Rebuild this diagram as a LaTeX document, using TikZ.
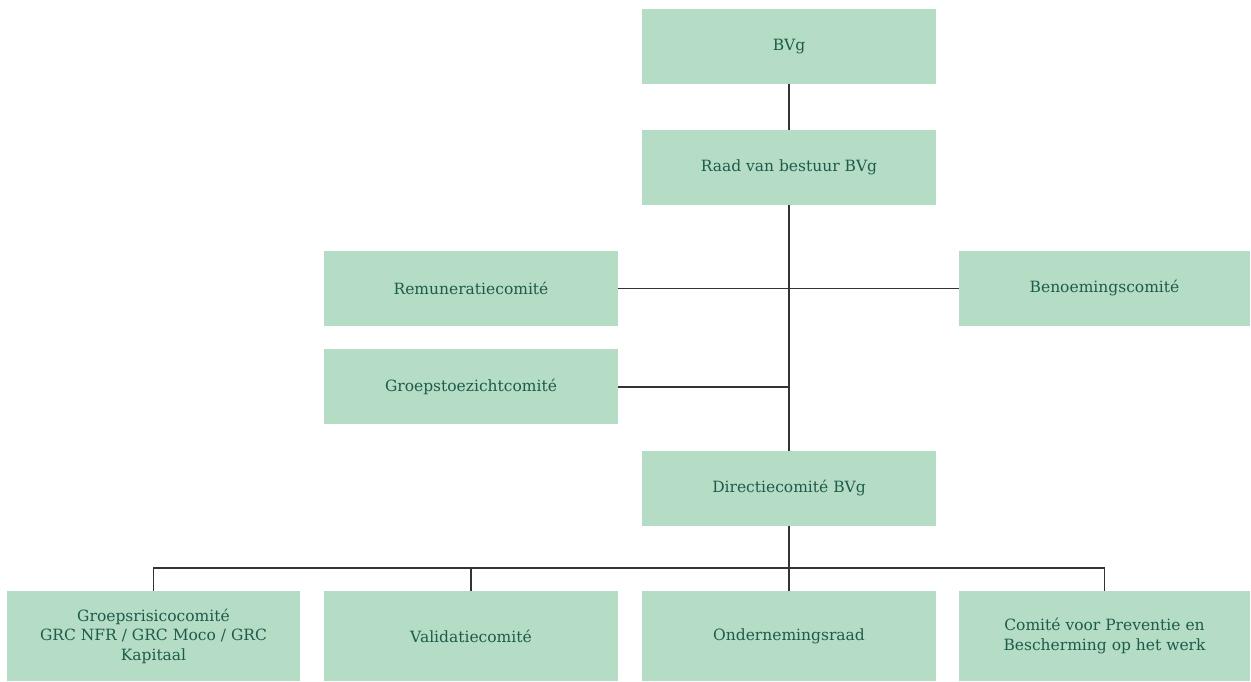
\documentclass[tikz,border=0pt]{standalone}
\usepackage{fontspec}
\setmainfont{DejaVu Serif}
\definecolor{boxfill}{HTML}{B5DCC4}
\definecolor{boxtext}{HTML}{1D5C4A}
\definecolor{linec}{HTML}{333333}
\begin{document}
\begin{tikzpicture}[x=1pt,y=-1pt,
  box/.style={fill=boxfill, text=boxtext, minimum width=294pt, minimum height=75pt, inner sep=0pt, align=center, font=\fontsize{15.5}{19.5}\selectfont},
  lowbox/.style={box, minimum height=90pt},
  conn/.style={draw=linec, line width=1.4pt}]
\useasboundingbox (0,0) rectangle (1251,682);
\node[box] (bvg) at (789,46.5) {BVg};
\node[box] (raad) at (789,167.5) {Raad van bestuur BVg};
\node[box] (rem) at (471,288.5) {Remuneratiecomité};
\node[box, minimum width=291pt] (ben) at (1104.5,288.5) {Benoemingscomité};
\node[box] (gtc) at (471,386.5) {Groepstoezichtcomité};
\node[box] (dir) at (789,488.5) {Directiecomité BVg};
\node[lowbox, minimum width=293pt] (b1) at (153.5,636) {Groepsrisicocomité\\GRC NFR / GRC Moco / GRC\\Kapitaal};
\node[lowbox] (b2) at (471,636) {Validatiecomité};
\node[lowbox] (b3) at (789,636) {Ondernemingsraad};
\node[lowbox, minimum width=291pt] (b4) at (1104.5,636) {Comité voor Preventie en\\Bescherming op het werk};
\coordinate (j1) at (789,387);
\coordinate (bus) at (789,568);
\draw[conn] (bvg.south) -- (raad.north);
\draw[conn] (raad.south) -- (dir.north);
\draw[conn] (rem.east) -- (ben.west);
\draw[conn] (gtc.east |- j1) -- (j1);
\draw[conn] (dir.south) -- (b3.north);
\draw[conn] (b1.north) |- (bus) -| (b4.north);
\draw[conn] (b2.north) -- (b2.north |- bus);
\end{tikzpicture}
\end{document}
